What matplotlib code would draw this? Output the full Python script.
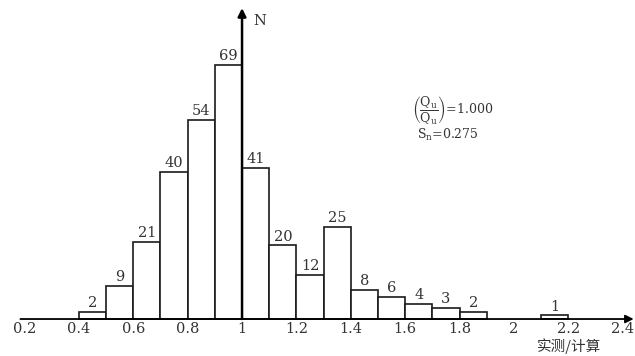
import matplotlib
matplotlib.use('Agg')
import matplotlib.pyplot as plt

plt.rcParams['font.family'] = ['DejaVu Serif', 'Noto Sans CJK SC']
plt.rcParams['mathtext.fontset'] = 'dejavuserif'

# histogram data: left edge of each 0.1-wide bin and count
bin_left = [0.4, 0.5, 0.6, 0.7, 0.8, 0.9, 1.0, 1.1, 1.2, 1.3, 1.4, 1.5, 1.6, 1.7, 1.8, 2.1]
counts = [2, 9, 21, 40, 54, 69, 41, 20, 12, 25, 8, 6, 4, 3, 2, 1]
bin_width = 0.1

tick_vals = [0.2, 0.4, 0.6, 0.8, 1.0, 1.2, 1.4, 1.6, 1.8, 2.0, 2.2, 2.4]
tick_labels = ['0.2', '0.4', '0.6', '0.8', '1', '1.2', '1.4', '1.6', '1.8', '2', '2.2', '2.4']

fig = plt.figure(figsize=(6.35, 3.56), dpi=100)
ax = fig.add_axes([0, 0, 1, 1])
ax.set_xlim(0.110, 2.445)
ax.set_ylim(-10.05, 86.7)
ax.axis('off')

ax.bar(bin_left, counts, width=bin_width, align='edge',
       facecolor='white', edgecolor='#1a1a1a', linewidth=1.2, zorder=2)

for xl, c in zip(bin_left, counts):
    ax.text(xl + bin_width / 2, c + 0.5, str(c), ha='center', va='bottom',
            fontsize=10.5, color='#333333')

# x axis with arrow
ax.annotate('', xy=(2.44, 0), xytext=(0.185, 0),
            arrowprops=dict(arrowstyle='-|>', color='black', lw=1.3,
                            mutation_scale=12, shrinkA=0, shrinkB=0), zorder=3)
# y axis at x = 1 with arrow
ax.annotate('', xy=(1.0, 84.5), xytext=(1.0, 0),
            arrowprops=dict(arrowstyle='-|>', color='black', lw=1.8,
                            mutation_scale=12, shrinkA=0, shrinkB=0), zorder=3)
ax.text(1.04, 81.0, 'N', ha='left', va='center', fontsize=10.5, color='#333333')

for v, lab in zip(tick_vals, tick_labels):
    ax.text(v, -0.8, lab, ha='center', va='top', fontsize=10.5, color='#333333')

ax.text(2.202, -7.3, '实测/计算', ha='center', va='center', fontsize=10.5,
        color='#333333', family=['Noto Sans CJK SC', 'DejaVu Sans'])

ax.text(1.625, 56.5, r'$\left(\dfrac{\mathrm{Q_u}}{\mathrm{Q_u}}\right)$=1.000',
        ha='left', va='center', fontsize=9, color='#333333')
ax.text(1.645, 50.0, r'S$_\mathrm{n}$=0.275', ha='left', va='center',
        fontsize=9, color='#333333')

fig.savefig('out.png', dpi=100)
